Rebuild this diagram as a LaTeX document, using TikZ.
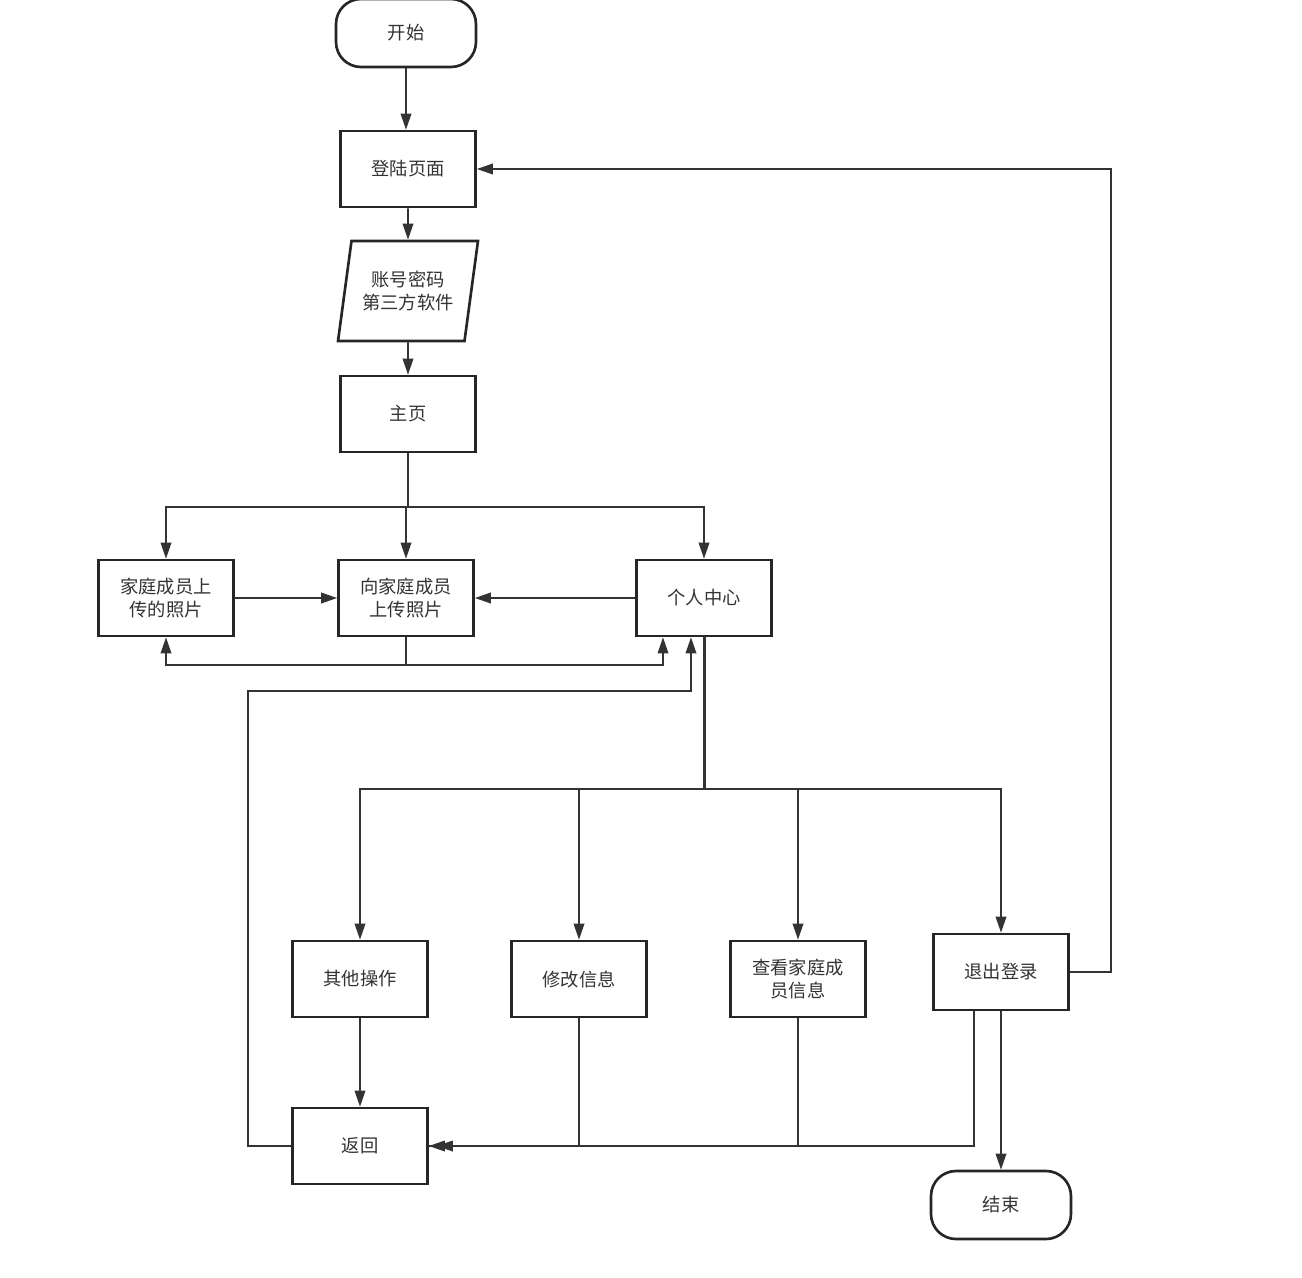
\documentclass[tikz,border=0pt]{standalone}
\usepackage{fontspec}
\usepackage{xcolor}
\usepackage{tikz}
\usetikzlibrary{positioning,arrows.meta,shapes.geometric}
\newfontfamily\cjkfont{Noto Sans CJK SC}
\definecolor{LineDark}{HTML}{333333}
\definecolor{BoxDark}{HTML}{262626}

\begin{document}
\begin{tikzpicture}[x=0.02cm,y=-0.02cm,
    font=\cjkfont\fontsize{10.4pt}{13.4pt}\selectfont,
    every node/.style={text=LineDark},
    proc/.style={draw=BoxDark, line width=1.5pt, minimum width=2.7cm,
                 minimum height=1.52cm, align=center, inner sep=2pt},
    term/.style={draw=BoxDark, line width=1.5pt, rounded corners=0.5cm,
                 minimum width=2.8cm, minimum height=1.36cm},
    io/.style={draw=BoxDark, line width=1.5pt, trapezium,
               trapezium left angle=73, trapezium right angle=107,
               trapezium stretches body, minimum width=2.8cm,
               minimum height=2cm, align=center, inner sep=1pt},
    conn/.style={draw=LineDark, line width=1.1pt},
    trunk/.style={draw=LineDark, line width=1.7pt},
    arr/.style={conn, -{Triangle[length=0.32cm,width=0.21cm]}}]
  \useasboundingbox (0,0) rectangle (1302,1278);

  % main column
  \node[term] (kaishi) at (406,33) {开始};
  \node[proc] (denglu) at (408,169) {登陆页面};
  \node[io] (zhanghao) at (408,291) {账号密码\\第三方软件};
  \node[proc] (zhuye) at (408,414) {主页};

  % photo row
  \node[proc] (jiating) at (166,598) {家庭成员上\\传的照片};
  \node[proc] (xiangjia) at (406,598) {向家庭成员\\上传照片};
  \node[proc] (geren) at (704,598) {个人中心};

  % personal center row
  \node[proc] (qita) at (360,979) {其他操作};
  \node[proc] (xiugai) at (579,979) {修改信息};
  \node[proc] (chakan) at (798,979) {查看家庭成\\员信息};
  \node[proc] (tuichu) at (1001,972) {退出登录};
  \node[proc] (fanhui) at (360,1146) {返回};
  \node[term] (jieshu) at (1001,1205) {结束};

  \coordinate (hubA) at (408,507);
  \coordinate (hubB) at (704,789);
  \coordinate (loopA) at (663,665);
  \coordinate (loopB) at (691,691);

  \draw[arr] (kaishi.south) -- (kaishi.south |- denglu.north);
  \draw[arr] (denglu) -- (zhanghao);
  \draw[arr] (zhanghao) -- (zhuye);
  \draw[trunk] (zhuye.south) -- (hubA);
  \draw[arr] (hubA) -| (jiating.north);
  \draw[arr] (hubA) -| (xiangjia.north);
  \draw[arr] (hubA) -| (geren.north);
  \draw[arr] (jiating) -- (xiangjia);
  \draw[arr] (geren) -- (xiangjia);
  \draw[arr] (xiangjia.south) -- (xiangjia.south |- loopA) -| (jiating.south);
  \draw[arr] (xiangjia.south) |- (loopA) -- (loopA |- geren.south);
  \draw[arr] (fanhui.west) -- ++(-43,0) |- (loopB) -- (loopB |- geren.south);

  \draw[trunk] (geren.south) -- (hubB);
  \draw[arr] (hubB) -| (qita.north);
  \draw[arr] (hubB) -| (xiugai.north);
  \draw[arr] (hubB) -| (chakan.north);
  \draw[arr] (hubB) -| (tuichu.north);
  \draw[arr] (qita) -- (fanhui);
  \draw[conn] (xiugai.south) |- (fanhui.east);
  \draw[arr] (chakan.south) |- (fanhui.east);
  \draw[arr] ([xshift=-0.54cm]tuichu.south) |- ([xshift=0.16cm]fanhui.east);
  \draw[arr] (tuichu) -- (jieshu);
  \draw[arr] (tuichu.east) -- ++(41,0) |- (denglu.east);
\end{tikzpicture}
\end{document}
